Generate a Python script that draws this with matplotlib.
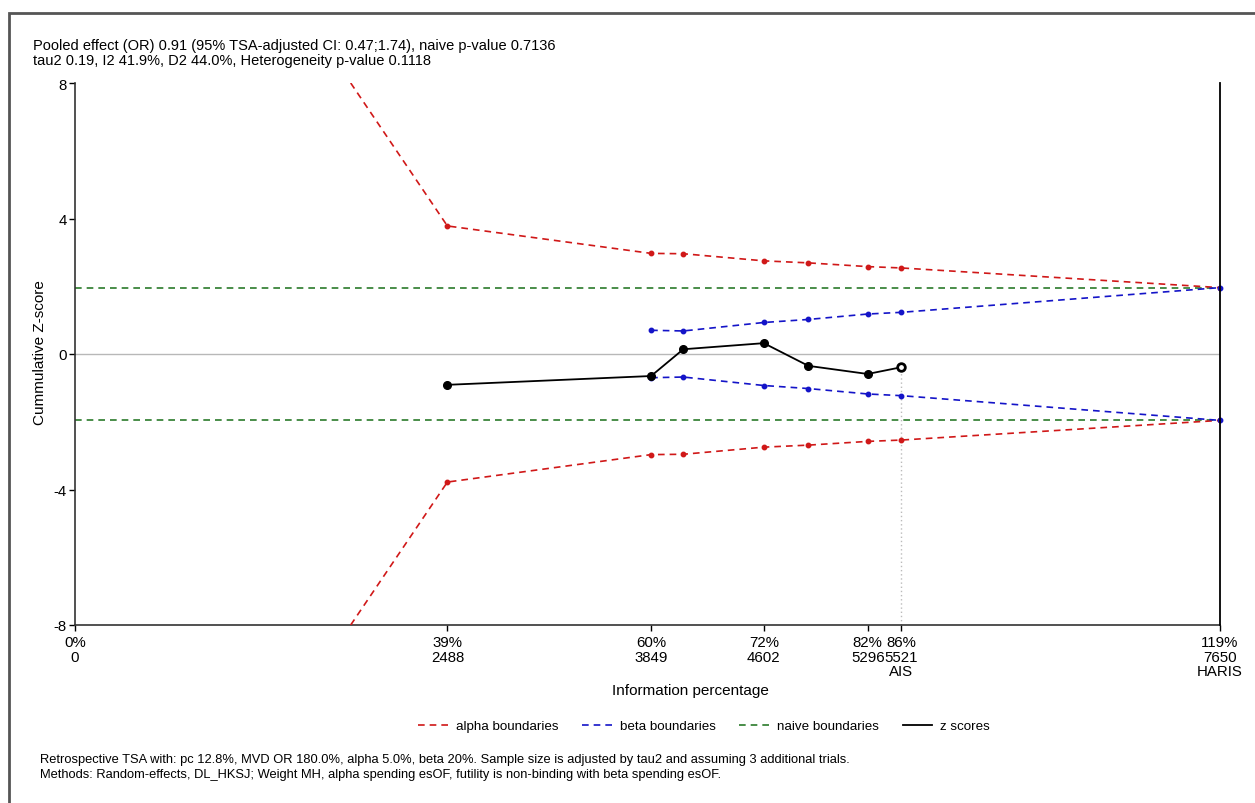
import matplotlib
matplotlib.use("Agg")
import matplotlib.pyplot as plt
from matplotlib.lines import Line2D
from matplotlib.patches import Rectangle

plt.rcParams['font.family'] = ['Liberation Sans', 'DejaVu Sans']

# Cumulative sample sizes at each analysis and the tick annotations
tick_n = [0, 2488, 3849, 4602, 5296, 5521, 7650]
tick_pct = ["0%", "39%", "60%", "72%", "82%", "86%", "119%"]
tick_extra = ["", "", "", "", "", "AIS", "HARIS"]
haris_n = 7650
ais_n = 5521

# Z-score trajectory
z_n = [2488, 3849, 4064, 4602, 4900, 5296, 5521]
z_val = [-0.91, -0.65, 0.14, 0.32, -0.35, -0.59, -0.39]

# Alpha spending boundaries (first point is where the curve leaves the +/-8 window)
alpha_n = [1842, 2488, 3849, 4064, 4602, 4900, 5296, 5521, 7650]
alpha_val = [8.0, 3.78, 2.97, 2.96, 2.75, 2.69, 2.58, 2.54, 1.96]

# Beta (futility) boundaries
beta_n = [3849, 4064, 4602, 4900, 5296, 5521, 7650]
beta_val = [0.70, 0.68, 0.93, 1.02, 1.18, 1.23, 1.96]

naive_z = 1.96

red = "#d01818"
blue = "#1414c8"
green = "#2a7a2a"
dash = (0, (4, 3))

fig = plt.figure(figsize=(12.55, 8.04), dpi=100)
W, H = 1255, 804

# outer frame
fig.patches.append(Rectangle((9 / W, -0.05), 1.2, 1 - 14 / H + 0.05,
                             transform=fig.transFigure, fill=False,
                             edgecolor="#555555", linewidth=2.0))

ax = fig.add_axes([75 / W, 1 - 626 / H, (1220 - 75) / W, (626 - 84) / H])
ax.set_xlim(0, haris_n)
ax.set_ylim(-8, 8)

ax.axhline(0, color="#b8b8b8", lw=1.0, zorder=1)
ax.axhline(naive_z, color=green, lw=1.2, ls=dash, zorder=2)
ax.axhline(-naive_z, color=green, lw=1.2, ls=dash, zorder=2)

mk = list(range(1, len(alpha_n)))
ax.plot(alpha_n, alpha_val, color=red, lw=1.2, ls=dash,
        marker="o", ms=3.2, markevery=mk, zorder=3)
ax.plot(alpha_n, [-v for v in alpha_val], color=red, lw=1.2, ls=dash,
        marker="o", ms=3.2, markevery=mk, zorder=3)
ax.plot(beta_n, beta_val, color=blue, lw=1.2, ls=dash,
        marker="o", ms=3.2, zorder=3, clip_on=False)
ax.plot(beta_n, [-v for v in beta_val], color=blue, lw=1.2, ls=dash,
        marker="o", ms=3.2, zorder=3, clip_on=False)

# AIS marker line and HARIS line
ax.plot([ais_n, ais_n], [-8, z_val[-1]], color="#bbbbbb", lw=1.0, ls=(0, (1, 2)), zorder=1)
ax.plot([haris_n, haris_n], [-8, 8], color="black", lw=1.3, zorder=4, clip_on=False)

ax.plot(z_n, z_val, color="black", lw=1.3, marker="o", ms=5.5, zorder=5)
ax.plot([z_n[-1]], [z_val[-1]], marker="o", ms=5.5, mfc="white", mec="black", mew=2, zorder=6)

for s in ["top", "right"]:
    ax.spines[s].set_visible(False)
for s in ["left", "bottom"]:
    ax.spines[s].set_color("#333333")
    ax.spines[s].set_linewidth(1.2)

ax.set_yticks([-8, -4, 0, 4, 8])
ax.set_yticklabels(["-8", "-4", "0", "4", "8"], fontsize=10.8)
ax.tick_params(axis="y", length=4, width=1, pad=2)

ax.set_xticks(tick_n)
ax.set_xticklabels([""] * len(tick_n))
ax.tick_params(axis="x", length=4, width=1)

for n, p, e in zip(tick_n, tick_pct, tick_extra):
    lbl = f"{p}\n{n}" + (f"\n{e}" if e else "")
    ax.annotate(lbl, xy=(n, -8), xycoords="data", xytext=(0, -7),
                textcoords="offset points", ha="center", va="top",
                fontsize=10.8, linespacing=1.08)

fig.text(690 / W, 1 - 691 / H, "Information percentage", ha="center", va="center", fontsize=11)
fig.text(40 / W, 1 - 353 / H, "Cummulative Z-score", ha="center", va="center",
         rotation=90, fontsize=11)

fig.text(33 / W, 1 - 39 / H,
         "Pooled effect (OR) 0.91 (95% TSA-adjusted CI: 0.47;1.74), naive p-value 0.7136\n"
         "tau2 0.19, I2 41.9%, D2 44.0%, Heterogeneity p-value 0.1118",
         ha="left", va="top", fontsize=10.5, linespacing=1.05)

handles = [
    Line2D([], [], color=red, lw=1.2, ls=dash),
    Line2D([], [], color=blue, lw=1.2, ls=dash),
    Line2D([], [], color=green, lw=1.2, ls=dash),
    Line2D([], [], color="black", lw=1.3),
]
fig.legend(handles, ["alpha boundaries", "beta boundaries", "naive boundaries", "z scores"],
           loc="center", bbox_to_anchor=(704 / W, 1 - 727 / H), ncol=4, frameon=False,
           fontsize=9.6, handlelength=2.2, handletextpad=0.6, columnspacing=1.8)

fig.text(40 / W, 1 - 760 / H,
         "Retrospective TSA with: pc 12.8%, MVD OR 180.0%, alpha 5.0%, beta 20%. "
         "Sample size is adjusted by tau2 and assuming 3 additional trials.",
         ha="left", va="center", fontsize=9.3)
fig.text(40 / W, 1 - 775 / H,
         "Methods: Random-effects, DL_HKSJ; Weight MH, alpha spending esOF, "
         "futility is non-binding with beta spending esOF.",
         ha="left", va="center", fontsize=9.3)

fig.savefig("out.png", dpi=100, facecolor="white")
